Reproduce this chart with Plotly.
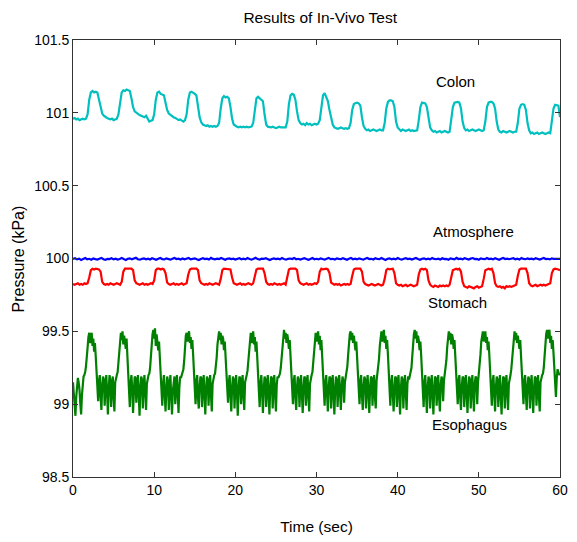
import numpy as np
import plotly.graph_objects as go

# ---- data (kPa) ----
colon_dt = 0.2
colon = [
    100.96, 100.965, 100.955, 100.96, 100.95, 100.955, 100.96, 100.955, 100.96, 100.99,
    101.09, 101.14, 101.15, 101.14, 101.145, 101.14, 101.09, 101.03, 100.995, 100.98,
    100.97, 100.965, 100.96, 100.955, 100.96, 100.95, 100.955, 100.96, 100.99, 101.08,
    101.14, 101.155, 101.15, 101.16, 101.155, 101.15, 101.1, 101.04, 101.01, 101.0,
    100.99, 100.985, 100.98, 100.975, 100.97, 100.98, 100.96, 100.94, 100.945, 100.95,
    100.99, 101.09, 101.14, 101.145, 101.13, 101.125, 101.12, 101.07, 101.02, 100.995,
    100.985, 100.975, 100.97, 100.965, 100.955, 100.95, 100.955, 100.945, 100.94, 100.95,
    100.99, 101.09, 101.14, 101.145, 101.14, 101.13, 101.12, 101.05, 100.97, 100.935,
    100.92, 100.915, 100.91, 100.915, 100.905, 100.91, 100.905, 100.91, 100.905, 100.91,
    100.93, 101.03, 101.1, 101.115, 101.105, 101.11, 101.1, 101.04, 100.96, 100.92,
    100.91, 100.905, 100.9, 100.905, 100.9, 100.905, 100.9, 100.905, 100.9, 100.905,
    100.905, 100.93, 101.04, 101.1, 101.11, 101.1, 101.09, 101.08, 100.99, 100.92,
    100.905, 100.9, 100.9, 100.905, 100.9, 100.895, 100.9, 100.905, 100.9, 100.9,
    100.9, 100.9, 100.94, 101.06, 101.12, 101.13, 101.125, 101.09, 101.01, 100.95,
    100.93, 100.92, 100.925, 100.915, 100.93, 100.92, 100.925, 100.915, 100.92, 100.925,
    100.92, 100.925, 100.95, 101.06, 101.12, 101.135, 101.11, 101.08, 101.02, 100.96,
    100.92, 100.9, 100.895, 100.89, 100.895, 100.9, 100.895, 100.89, 100.895, 100.89,
    100.895, 100.93, 101.02, 101.06, 101.065, 101.07, 101.065, 101.05, 100.97, 100.91,
    100.89, 100.88, 100.885, 100.875, 100.88, 100.885, 100.88, 100.875, 100.88, 100.885,
    100.88, 100.88, 100.93, 101.03, 101.075, 101.085, 101.085, 101.08, 101.04, 100.94,
    100.9, 100.885, 100.875, 100.885, 100.88, 100.875, 100.88, 100.885, 100.875, 100.88,
    100.875, 100.88, 100.88, 100.95, 101.04, 101.07, 101.07, 101.065, 101.04, 100.95,
    100.9, 100.88, 100.87, 100.875, 100.865, 100.87, 100.875, 100.865, 100.87, 100.875,
    100.87, 100.865, 100.87, 100.96, 101.04, 101.07, 101.075, 101.075, 101.07, 101.03,
    100.94, 100.895, 100.88, 100.885, 100.875, 100.88, 100.885, 100.88, 100.875, 100.88,
    100.885, 100.88, 100.875, 100.88, 100.94, 101.04, 101.07, 101.075, 101.075, 101.065,
    101.03, 100.94, 100.885, 100.87, 100.865, 100.875, 100.87, 100.865, 100.87, 100.875,
    100.87, 100.865, 100.87, 100.87, 100.93, 101.03, 101.055, 101.06, 101.055, 101.02,
    100.93, 100.88, 100.86, 100.865, 100.855, 100.86, 100.865, 100.855, 100.86, 100.865,
    100.86, 100.855, 100.86, 100.865, 100.86, 100.94, 101.03, 101.055, 101.055, 101.05,
    100.97,
]

atmosphere_dt = 0.25
atmosphere = [
    99.997, 100.002, 99.994, 99.999, 99.99, 99.996, 100.003, 99.995, 99.998, 99.992, 100.0, 99.996,
    99.993, 99.999, 100.004, 99.995, 99.991, 99.998, 99.996, 100.002, 99.994, 99.999, 99.993, 99.997,
    100.003, 99.996, 99.99, 99.998, 100.001, 99.994, 99.997, 100.005, 99.995, 99.992, 99.998, 100.0,
    99.995, 99.999, 99.993, 100.002, 99.997, 99.991, 99.998, 100.003, 99.996, 99.994, 100.001, 99.997,
    99.992, 99.998, 100.004, 99.996, 99.999, 99.993, 100.0, 99.995, 99.998, 100.003, 99.994, 99.997,
    100.001, 99.995, 99.99, 99.997, 100.002, 99.996, 99.999, 99.993, 100.004, 99.997, 99.994, 99.999,
    99.996, 100.003, 99.995, 99.991, 99.998, 100.001, 99.996, 99.999, 99.993, 99.997, 100.002, 99.995,
    99.999, 99.994, 100.003, 99.997, 99.992, 99.998, 100.005, 99.996, 99.993, 99.999, 99.997, 100.002,
    99.995, 99.99, 99.997, 100.001, 99.996, 99.999, 99.994, 100.003, 99.997, 99.992, 99.998, 100.0,
    99.996, 100.004, 99.995, 99.998, 99.993, 99.999, 100.002, 99.996, 99.991, 99.997, 100.003, 99.995,
    99.998, 99.994, 100.001, 99.997, 99.992, 99.999, 100.004, 99.996, 99.998, 99.993, 100.0, 99.997,
    99.995, 100.002, 99.996, 99.991, 99.998, 100.003, 99.995, 99.999, 99.994, 100.001, 99.997, 99.992,
    99.999, 100.004, 99.996, 99.998, 99.993, 100.002, 99.997, 99.995, 100.003, 99.996, 99.99, 99.998,
    100.001, 99.995, 99.999, 99.994, 100.003, 99.997, 99.992, 99.998, 100.002, 99.996, 99.999, 99.993,
    99.997, 100.004, 99.996, 99.991, 99.998, 100.001, 99.995, 99.999, 99.994, 100.003, 99.997, 99.995,
    99.999, 99.993, 100.002, 99.996, 99.998, 99.992, 100.001, 99.997, 99.994, 100.004, 99.996, 99.999,
    99.995, 100.002, 99.997, 99.993, 99.999, 100.003, 99.996, 99.998, 99.992, 100.001, 99.997, 99.995,
    100.003, 99.996, 99.999, 99.994, 100.002, 99.997, 99.991, 99.998, 100.004, 99.996, 99.999, 99.995,
    99.998, 100.002, 99.995, 99.999, 99.993, 100.003, 99.997, 99.995, 100.001, 99.996, 99.999, 99.994,
    100.002, 99.997, 99.993, 99.999, 100.004, 99.996, 99.998, 99.994, 100.001, 99.997, 99.999, 99.996,
    99.998,
]

stomach_dt = 0.2
stomach = [
    99.825, 99.82, 99.825, 99.83, 99.82, 99.825, 99.82, 99.83, 99.825, 99.83,
    99.87, 99.92, 99.93, 99.925, 99.93, 99.93, 99.925, 99.91, 99.84, 99.825,
    99.82, 99.825, 99.82, 99.83, 99.825, 99.82, 99.825, 99.83, 99.825, 99.82,
    99.84, 99.91, 99.93, 99.93, 99.925, 99.93, 99.93, 99.92, 99.85, 99.83,
    99.825, 99.82, 99.825, 99.83, 99.82, 99.825, 99.82, 99.825, 99.83, 99.825,
    99.85, 99.92, 99.93, 99.93, 99.925, 99.93, 99.925, 99.9, 99.835, 99.825,
    99.82, 99.825, 99.83, 99.82, 99.825, 99.82, 99.825, 99.83, 99.82, 99.825,
    99.83, 99.89, 99.925, 99.93, 99.93, 99.925, 99.93, 99.92, 99.85, 99.83,
    99.825, 99.82, 99.825, 99.82, 99.83, 99.825, 99.82, 99.825, 99.83, 99.825,
    99.82, 99.86, 99.92, 99.93, 99.93, 99.925, 99.93, 99.925, 99.87, 99.83,
    99.825, 99.82, 99.825, 99.83, 99.82, 99.825, 99.82, 99.825, 99.83, 99.825,
    99.82, 99.83, 99.89, 99.925, 99.93, 99.93, 99.925, 99.93, 99.9, 99.84,
    99.825, 99.82, 99.825, 99.82, 99.83, 99.825, 99.82, 99.825, 99.82, 99.825,
    99.83, 99.82, 99.87, 99.925, 99.93, 99.93, 99.925, 99.93, 99.92, 99.85,
    99.83, 99.825, 99.82, 99.825, 99.83, 99.82, 99.825, 99.82, 99.825, 99.83,
    99.825, 99.84, 99.91, 99.93, 99.925, 99.93, 99.93, 99.925, 99.9, 99.835,
    99.825, 99.82, 99.825, 99.82, 99.825, 99.815, 99.82, 99.825, 99.82, 99.825,
    99.82, 99.825, 99.88, 99.925, 99.93, 99.93, 99.925, 99.93, 99.91, 99.84,
    99.825, 99.82, 99.815, 99.82, 99.825, 99.82, 99.815, 99.82, 99.825, 99.82,
    99.815, 99.82, 99.86, 99.92, 99.93, 99.925, 99.93, 99.93, 99.9, 99.83,
    99.82, 99.815, 99.82, 99.81, 99.815, 99.82, 99.81, 99.815, 99.82, 99.815,
    99.81, 99.815, 99.82, 99.89, 99.925, 99.93, 99.925, 99.93, 99.92, 99.85,
    99.82, 99.81, 99.805, 99.815, 99.81, 99.805, 99.815, 99.81, 99.815, 99.81,
    99.815, 99.81, 99.82, 99.87, 99.92, 99.925, 99.93, 99.925, 99.93, 99.91,
    99.84, 99.81, 99.805, 99.8, 99.81, 99.805, 99.8, 99.795, 99.805, 99.81,
    99.8, 99.805, 99.81, 99.86, 99.92, 99.925, 99.93, 99.925, 99.93, 99.9,
    99.83, 99.81, 99.805, 99.81, 99.8, 99.805, 99.795, 99.81, 99.805, 99.81,
    99.805, 99.81, 99.815, 99.82, 99.88, 99.925, 99.93, 99.93, 99.925, 99.93,
    99.9, 99.83, 99.815, 99.81, 99.815, 99.82, 99.81, 99.815, 99.82, 99.815,
    99.82, 99.815, 99.82, 99.825, 99.83, 99.9, 99.925, 99.93, 99.93, 99.925,
    99.92,
]

esophagus_dt = 0.1
esophagus = [
    99.15, 99.06, 98.97, 98.92, 99.05, 99.16, 99.18, 99.15, 99.1, 99.0, 98.93, 99.06, 99.17, 99.19, 99.2, 99.22,
    99.26, 99.31, 99.39, 99.46, 99.49, 99.42, 99.47, 99.49, 99.4, 99.45, 99.36, 99.42, 99.33, 99.22, 99.12, 99.02,
    99.16, 99.2, 99.05, 98.96, 99.13, 99.19, 99.17, 98.99, 99.12, 99.2, 99.08, 98.93, 99.1, 99.2, 99.16, 98.98,
    99.14, 99.19, 99.05, 98.95, 99.15, 99.19, 99.2,
    99.22, 99.29, 99.37, 99.45, 99.49, 99.44, 99.5, 99.41, 99.47, 99.43, 99.38, 99.45, 99.35, 99.24, 99.1, 98.98,
    99.15, 99.2, 99.1, 98.94, 99.08, 99.19, 99.18, 99.01, 99.13, 99.2, 99.06, 98.92, 99.11, 99.19, 99.17, 98.97,
    99.12, 99.2, 99.09, 98.96, 99.14, 99.18, 99.2, 99.21,
    99.25, 99.33, 99.42, 99.48, 99.51, 99.45, 99.52, 99.4, 99.48, 99.44, 99.37, 99.43, 99.32, 99.2, 99.08, 98.99,
    99.14, 99.2, 99.07, 98.95, 99.1, 99.19, 99.16, 98.96, 99.12, 99.2, 99.05, 98.93, 99.09, 99.18, 99.19, 99.0,
    99.13, 99.2, 99.08, 98.94, 99.11, 99.19, 99.18, 99.2, 99.21,
    99.24, 99.3, 99.4, 99.47, 99.49, 99.43, 99.48, 99.5, 99.42, 99.46, 99.38, 99.44, 99.34, 99.23, 99.11, 99.0,
    99.16, 99.2, 99.04, 98.97, 99.12, 99.19, 99.18, 98.98, 99.11, 99.2, 99.07, 98.93, 99.1, 99.19, 99.17, 98.99,
    99.13, 99.2, 99.06, 98.95, 99.14, 99.19, 99.2, 99.21,
    99.26, 99.32, 99.41, 99.47, 99.5, 99.44, 99.49, 99.41, 99.47, 99.45, 99.37, 99.43, 99.33, 99.21, 99.1, 99.01,
    99.15, 99.2, 99.06, 98.95, 99.11, 99.19, 99.17, 98.97, 99.12, 99.2, 99.08, 98.92, 99.1, 99.19, 99.18, 99.0,
    99.14, 99.2, 99.05, 98.96, 99.15, 99.19, 99.2,
    99.23, 99.3, 99.38, 99.46, 99.49, 99.42, 99.47, 99.5, 99.41, 99.46, 99.36, 99.43, 99.32, 99.22, 99.09, 98.98,
    99.15, 99.2, 99.08, 98.94, 99.1, 99.19, 99.17, 98.98, 99.13, 99.2, 99.06, 98.93, 99.11, 99.19, 99.18, 98.97,
    99.12, 99.2, 99.07, 98.95, 99.13, 99.19, 99.18, 99.2, 99.21,
    99.25, 99.33, 99.42, 99.48, 99.51, 99.45, 99.49, 99.42, 99.48, 99.44, 99.38, 99.44, 99.34, 99.22, 99.11, 99.0,
    99.16, 99.2, 99.05, 98.96, 99.12, 99.19, 99.17, 98.98, 99.11, 99.2, 99.07, 98.94, 99.1, 99.19, 99.18, 98.99,
    99.13, 99.2, 99.06, 98.95, 99.14, 99.19, 99.2,
    99.22, 99.28, 99.36, 99.45, 99.49, 99.43, 99.48, 99.5, 99.41, 99.47, 99.37, 99.44, 99.33, 99.21, 99.1, 98.99,
    99.15, 99.2, 99.07, 98.95, 99.11, 99.19, 99.18, 98.97, 99.12, 99.2, 99.06, 98.93, 99.1, 99.19, 99.17, 98.98,
    99.13, 99.2, 99.08, 98.96, 99.12, 99.19, 99.16, 99.01, 99.15, 99.19, 99.21,
    99.26, 99.34, 99.43, 99.48, 99.5, 99.44, 99.49, 99.42, 99.47, 99.43, 99.37, 99.43, 99.32, 99.21, 99.1, 99.0,
    99.16, 99.2, 99.06, 98.96, 99.12, 99.19, 99.17, 98.97, 99.11, 99.2, 99.08, 98.94, 99.1, 99.19, 99.18, 98.99,
    99.14, 99.2, 99.05, 98.97, 99.16, 99.2,
    99.24, 99.31, 99.4, 99.47, 99.5, 99.43, 99.49, 99.51, 99.42, 99.47, 99.38, 99.44, 99.34, 99.22, 99.1, 98.99,
    99.15, 99.2, 99.07, 98.95, 99.1, 99.19, 99.18, 98.98, 99.13, 99.2, 99.06, 98.93, 99.11, 99.19, 99.17, 98.97,
    99.12, 99.2, 99.08, 98.96, 99.14, 99.19, 99.17, 99.2, 99.21,
    99.25, 99.33, 99.42, 99.48, 99.51, 99.45, 99.5, 99.42, 99.47, 99.44, 99.37, 99.43, 99.33, 99.21, 99.09, 98.98,
    99.15, 99.2, 99.06, 98.94, 99.11, 99.19, 99.17, 98.97, 99.12, 99.2, 99.07, 98.93, 99.1, 99.19, 99.18, 98.99,
    99.13, 99.2, 99.05, 98.95, 99.13, 99.19, 99.17, 99.02, 99.16, 99.21,
    99.23, 99.3, 99.39, 99.46, 99.5, 99.44, 99.49, 99.41, 99.48, 99.45, 99.38, 99.44, 99.34, 99.22, 99.1, 99.0,
    99.16, 99.2, 99.05, 98.96, 99.12, 99.19, 99.18, 98.98, 99.11, 99.2, 99.08, 98.94, 99.1, 99.19, 99.17, 98.97,
    99.12, 99.2, 99.07, 98.95, 99.14, 99.19, 99.18, 99.0, 99.15, 99.2,
    99.26, 99.34, 99.43, 99.48, 99.5, 99.43, 99.48, 99.5, 99.42, 99.46, 99.37, 99.43, 99.33, 99.21, 99.1, 98.99,
    99.15, 99.2, 99.07, 98.95, 99.11, 99.19, 99.17, 98.98, 99.12, 99.2, 99.06, 98.93, 99.1, 99.19, 99.18, 98.97,
    99.13, 99.2, 99.08, 98.96, 99.14, 99.19, 99.2,
    99.24, 99.32, 99.41, 99.47, 99.5, 99.44, 99.49, 99.42, 99.47, 99.43, 99.38, 99.44, 99.33, 99.22, 99.1, 99.0,
    99.16, 99.2, 99.06, 98.96, 99.12, 99.19, 99.17, 98.97, 99.11, 99.2, 99.07, 98.94, 99.1, 99.19, 99.18, 98.99,
    99.13, 99.2, 99.05, 98.95, 99.15, 99.19, 99.2, 99.21,
    99.25, 99.33, 99.42, 99.48, 99.51, 99.45, 99.49, 99.51, 99.42, 99.47, 99.38, 99.44, 99.35, 99.24, 99.15, 99.05,
    99.18, 99.24, 99.22, 99.2, 99.21,
]

series_names = ["Colon", "Atmosphere", "Stomach", "Esophagus"]
series_colors = ["#00BFBF", "#0000FF", "#FF0000", "#008000"]
x_ticks = [0, 10, 20, 30, 40, 50, 60]
y_ticks = [98.5, 99, 99.5, 100, 100.5, 101, 101.5]
y_tick_labels = ["98.5", "99", "99.5", "100", "100.5", "101", "101.5"]
label_pos = {  # (time, kPa) where each series name is written
    "Colon": (47.1, 101.215),
    "Atmosphere": (49.4, 100.185),
    "Stomach": (47.4, 99.70),
    "Esophagus": (48.9, 98.86),
}

FONT = "Liberation Sans, Arial, sans-serif"

fig = go.Figure()
for name, vals, dt, col in zip(
    series_names,
    [colon, atmosphere, stomach, esophagus],
    [colon_dt, atmosphere_dt, stomach_dt, esophagus_dt],
    series_colors,
):
    t = np.arange(len(vals)) * dt
    fig.add_trace(go.Scatter(x=t, y=vals, mode="lines", name=name,
                             line=dict(color=col, width=2.2), showlegend=False))

for name in series_names:
    tx, ty = label_pos[name]
    fig.add_annotation(x=tx, y=ty, text=name, showarrow=False,
                       font=dict(family=FONT, size=15, color="black"))

axis_common = dict(
    showline=True, linecolor="#333", linewidth=1, mirror="ticks",
    ticks="inside", ticklen=5, tickcolor="#333", showgrid=False, zeroline=False,
    tickfont=dict(family=FONT, size=14, color="black"),
)

fig.update_layout(
    width=577, height=542,
    margin=dict(l=73, r=9, t=40, b=57),
    paper_bgcolor="white", plot_bgcolor="white",
    title=dict(text="Results of In-Vivo Test", x=0.555, xanchor="center",
               y=1 - 18 / 542, yanchor="middle", yref="container",
               font=dict(family=FONT, size=15.5, color="black")),
    xaxis=dict(range=[0, 60], tickvals=x_ticks,
               title=dict(text="Time (sec)", standoff=24,
                          font=dict(family=FONT, size=15.5, color="black")),
               **axis_common),
    yaxis=dict(range=[98.5, 101.5], tickvals=y_ticks, ticktext=y_tick_labels,
               **axis_common),
)
fig.add_annotation(xref="paper", yref="paper", x=(18 - 73) / 495, y=0.5,
                   text="Pressure (kPa)", textangle=-90, showarrow=False,
                   xanchor="center", yanchor="middle",
                   font=dict(family=FONT, size=16, color="black"))

# remove the browser's default 8px body margin so the figure sits at the page origin
fig.write_html("out.html", config={"displayModeBar": False},
               post_script="document.body.style.margin='0px';")
